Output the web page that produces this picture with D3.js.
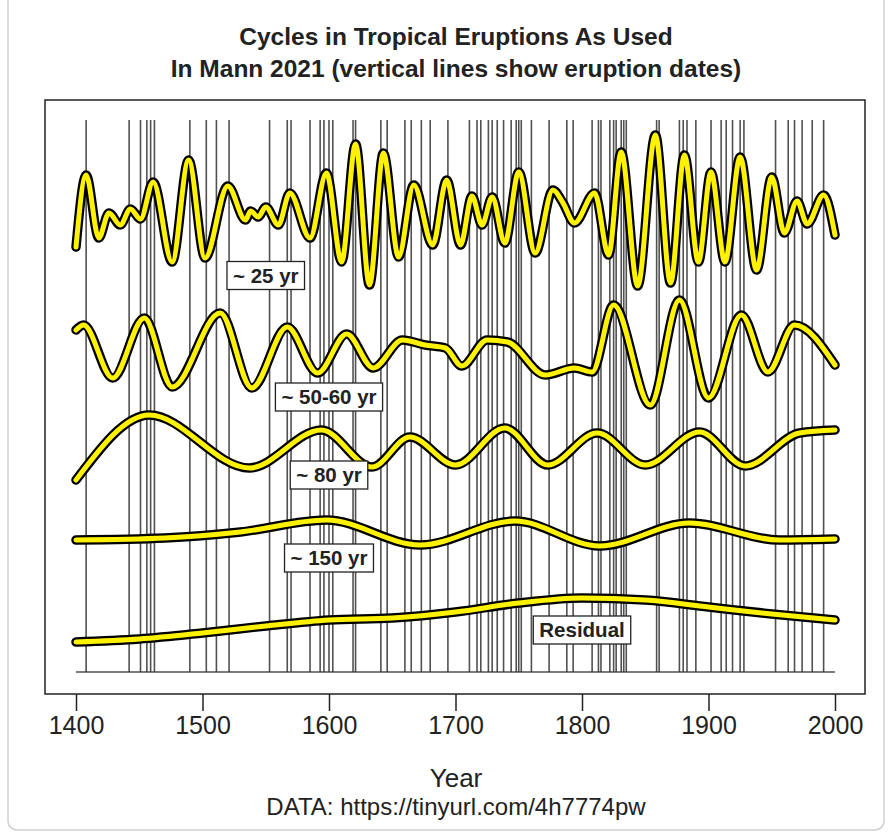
<!DOCTYPE html>
<html>
<head>
<meta charset="utf-8">
<script src="https://cdn.jsdelivr.net/npm/d3@7"></script>
<style>
  body { margin: 0; background: #fff; }
  text { font-family: "Liberation Sans", Arial, sans-serif; }
</style>
</head>
<body>
<div id="chart"></div>
<script>
// tropical eruption dates (vertical lines)
var eruptionYears = [1408, 1442, 1451, 1456, 1459, 1462, 1490, 1503, 1511, 1521,
  1553, 1567, 1570, 1585, 1593, 1596, 1600, 1603, 1619, 1621, 1641, 1646, 1660,
  1665, 1673, 1680, 1694, 1711, 1717, 1720, 1726, 1729, 1733, 1738, 1744, 1748,
  1750, 1752, 1760, 1774, 1788, 1793, 1808, 1813, 1815, 1822, 1825, 1827, 1831,
  1833, 1835, 1859, 1861, 1877, 1880, 1883, 1890, 1902, 1910, 1914, 1919, 1925,
  1928, 1953, 1963, 1968, 1974, 1982, 1991];

// ~25 yr cycle (values already include vertical offset of the panel)
var years25 = [1400, 1408, 1418, 1426, 1435, 1443, 1451, 1461, 1476, 1489, 1502,
  1520, 1534, 1538, 1544, 1550, 1560, 1569, 1585, 1598, 1610, 1621, 1632, 1643,
  1655, 1667, 1682, 1693, 1704, 1713, 1721, 1729, 1739, 1750, 1763, 1777, 1785,
  1794, 1810, 1821, 1831, 1844, 1858, 1870, 1881, 1892, 1902, 1913, 1925, 1938,
  1950, 1960, 1970, 1978, 1991, 2000];
var values25 = [44.7, 51.9, 45.6, 48.1, 46.9, 48.5, 47.5, 51.2, 43.2, 53.4, 43.6,
  50.8, 47.4, 48.3, 47.7, 48.7, 46.9, 50.1, 45.6, 52.1, 43.2, 55.0, 40.9, 54.1,
  43.7, 50.9, 44.9, 51.4, 44.9, 49.8, 46.9, 49.7, 45.1, 52.2, 44.1, 50.4, 49.1,
  47.1, 50.1, 43.9, 54.2, 40.8, 55.9, 41.1, 53.9, 43.2, 52.2, 43.2, 53.7, 42.4,
  51.7, 46.1, 49.3, 47.0, 49.9, 45.9];

// ~50-60 yr cycle
var years55 = [1400, 1406, 1429, 1454, 1476, 1514, 1539, 1567, 1591, 1614, 1635,
  1658, 1676, 1692, 1705, 1725, 1741, 1771, 1794, 1808, 1825, 1854, 1877, 1900,
  1926, 1947, 1968, 2000];
var values55 = [36.4, 36.9, 31.6, 37.6, 30.7, 38.1, 30.6, 36.7, 32.1, 36.0, 32.6,
  35.4, 34.9, 34.6, 32.8, 35.4, 35.2, 31.9, 32.6, 32.2, 38.9, 28.9, 39.4, 29.6,
  37.9, 32.2, 36.9, 32.9];

// ~80 yr cycle
var years80 = [1400, 1458, 1537, 1594, 1634, 1664, 1700, 1739, 1773, 1812, 1850,
  1893, 1929, 1972, 2000];
var values80 = [21.4, 27.9, 22.6, 26.4, 22.7, 25.7, 22.9, 26.6, 22.9, 26.1, 22.9,
  26.2, 22.8, 26.1, 26.4];

// ~150 yr cycle
var years150 = [1400, 1470, 1530, 1598, 1672, 1747, 1814, 1885, 1956, 2000];
var values150 = [15.4, 15.6, 16.2, 17.4, 14.9, 17.3, 14.8, 17.1, 15.4, 15.5];

// residual
var yearsRes = [1400, 1450, 1500, 1550, 1600, 1650, 1700, 1750, 1800, 1850, 1900, 1950, 2000];
var valuesRes = [5.2, 5.5, 6.1, 6.8, 7.4, 7.6, 8.2, 9.1, 9.6, 9.4, 8.7, 8.0, 7.4];

// curve labels
var labelText = ["~ 25 yr", "~ 50-60 yr", "~ 80 yr", "~ 150 yr", "Residual"];
var labelYears = [1550, 1600, 1600, 1600, 1800];
var labelValues = [41.85, 29.7, 21.9, 13.6, 6.4];

var xTicks = [1400, 1500, 1600, 1700, 1800, 1900, 2000];

// set the dimensions and margins of the graph
var margin = {top: 100, right: 27, bottom: 142, left: 45},
  width = 892 - margin.left - margin.right,
  height = 836 - margin.top - margin.bottom;

var root = d3.select("#chart")
  .append("svg")
    .attr("width", 892)
    .attr("height", 836);

// faint card border of the screenshot
root.append("rect")
  .attr("x", 8).attr("y", -12)
  .attr("width", 876).attr("height", 842)
  .attr("rx", 9)
  .style("fill", "none")
  .style("stroke", "#cfcfcf")
  .style("stroke-width", 1.5);

var svg = root.append("g")
  .attr("transform", "translate(" + margin.left + "," + margin.top + ")");

var x = d3.scaleLinear()
  .domain([1400, 2000])
  .range([31, 790]);

var y = d3.scaleLinear()
  .domain([0, 59.4])
  .range([height, 0]);

// eruption lines
var lineTop = 57.4, lineBase = 2.2;
svg.append("g")
  .selectAll("line")
  .data(eruptionYears)
  .enter()
  .append("line")
    .attr("x1", function(d) { return x(d); })
    .attr("x2", function(d) { return x(d); })
    .attr("y1", y(lineBase))
    .attr("y2", y(lineTop))
    .style("stroke", "#333")
    .style("stroke-width", 1.6)
    .style("opacity", 0.85);

svg.append("line")
  .attr("x1", x(1400)).attr("x2", x(2000))
  .attr("y1", y(lineBase)).attr("y2", y(lineBase))
  .style("stroke", "#333")
  .style("stroke-width", 1.6)
  .style("opacity", 0.85);

// cycles
var series = [
  {years: years25, values: values25},
  {years: years55, values: values55},
  {years: years80, values: values80},
  {years: years150, values: values150},
  {years: yearsRes, values: valuesRes}
].map(function(s) {
  return s.years.map(function(yr, i) { return {year: yr, value: s.values[i]}; });
});

var curve = d3.line()
  .x(function(d) { return x(d.year); })
  .y(function(d) { return y(d.value); })
  .curve(d3.curveMonotoneX);

series.forEach(function(s) {
  svg.append("path")
    .datum(s)
    .attr("d", curve)
    .style("fill", "none")
    .style("stroke", "#000")
    .style("stroke-width", 9.5)
    .style("stroke-linejoin", "round")
    .style("stroke-linecap", "round");
  svg.append("path")
    .datum(s)
    .attr("d", curve)
    .style("fill", "none")
    .style("stroke", "#fff200")
    .style("stroke-width", 5)
    .style("stroke-linejoin", "round")
    .style("stroke-linecap", "round");
});

// labels
labelText.forEach(function(t, i) {
  var g = svg.append("g")
    .attr("transform", "translate(" + x(labelYears[i]) + "," + y(labelValues[i]) + ")");
  var rect = g.append("rect");
  var txt = g.append("text")
    .text(t)
    .attr("text-anchor", "middle")
    .attr("dy", "0.36em")
    .style("font-size", "20.5px")
    .style("font-weight", "bold")
    .style("fill", "#222");
  var w = txt.node().getComputedTextLength() + 12;
  rect
    .attr("x", -w / 2).attr("y", -14)
    .attr("width", w).attr("height", 28)
    .style("fill", "#fff")
    .style("stroke", "#222")
    .style("stroke-width", 1.3);
});

// plot box
svg.append("rect")
  .attr("width", width)
  .attr("height", height)
  .style("fill", "none")
  .style("stroke", "#222")
  .style("stroke-width", 1.5);

// x axis
var xAxis = svg.append("g")
  .attr("transform", "translate(0," + height + ")")
  .call(d3.axisBottom(x)
    .tickValues(xTicks)
    .tickFormat(d3.format("d"))
    .tickSize(17)
    .tickPadding(5));
xAxis.select(".domain").remove();
xAxis.selectAll(".tick line").style("stroke", "#222").style("stroke-width", 1.5);
xAxis.selectAll(".tick text")
  .style("font-size", "25px")
  .style("fill", "#222")
  .style("font-family", "'Liberation Sans', Arial, sans-serif");

// titles
root.append("text")
  .text("Cycles in Tropical Eruptions As Used")
  .attr("x", 456).attr("y", 45)
  .attr("text-anchor", "middle")
  .style("font-size", "24.5px")
  .style("font-weight", "bold")
  .style("fill", "#222");

root.append("text")
  .text("In Mann 2021 (vertical lines show eruption dates)")
  .attr("x", 456).attr("y", 77)
  .attr("text-anchor", "middle")
  .style("font-size", "24.5px")
  .style("font-weight", "bold")
  .style("fill", "#222");

root.append("text")
  .text("Year")
  .attr("x", 456).attr("y", 787)
  .attr("text-anchor", "middle")
  .style("font-size", "26px")
  .style("fill", "#222");

root.append("text")
  .text("DATA: https://tinyurl.com/4h7774pw")
  .attr("x", 456).attr("y", 815)
  .attr("text-anchor", "middle")
  .style("font-size", "24px")
  .style("fill", "#222");
</script>
</body>
</html>
